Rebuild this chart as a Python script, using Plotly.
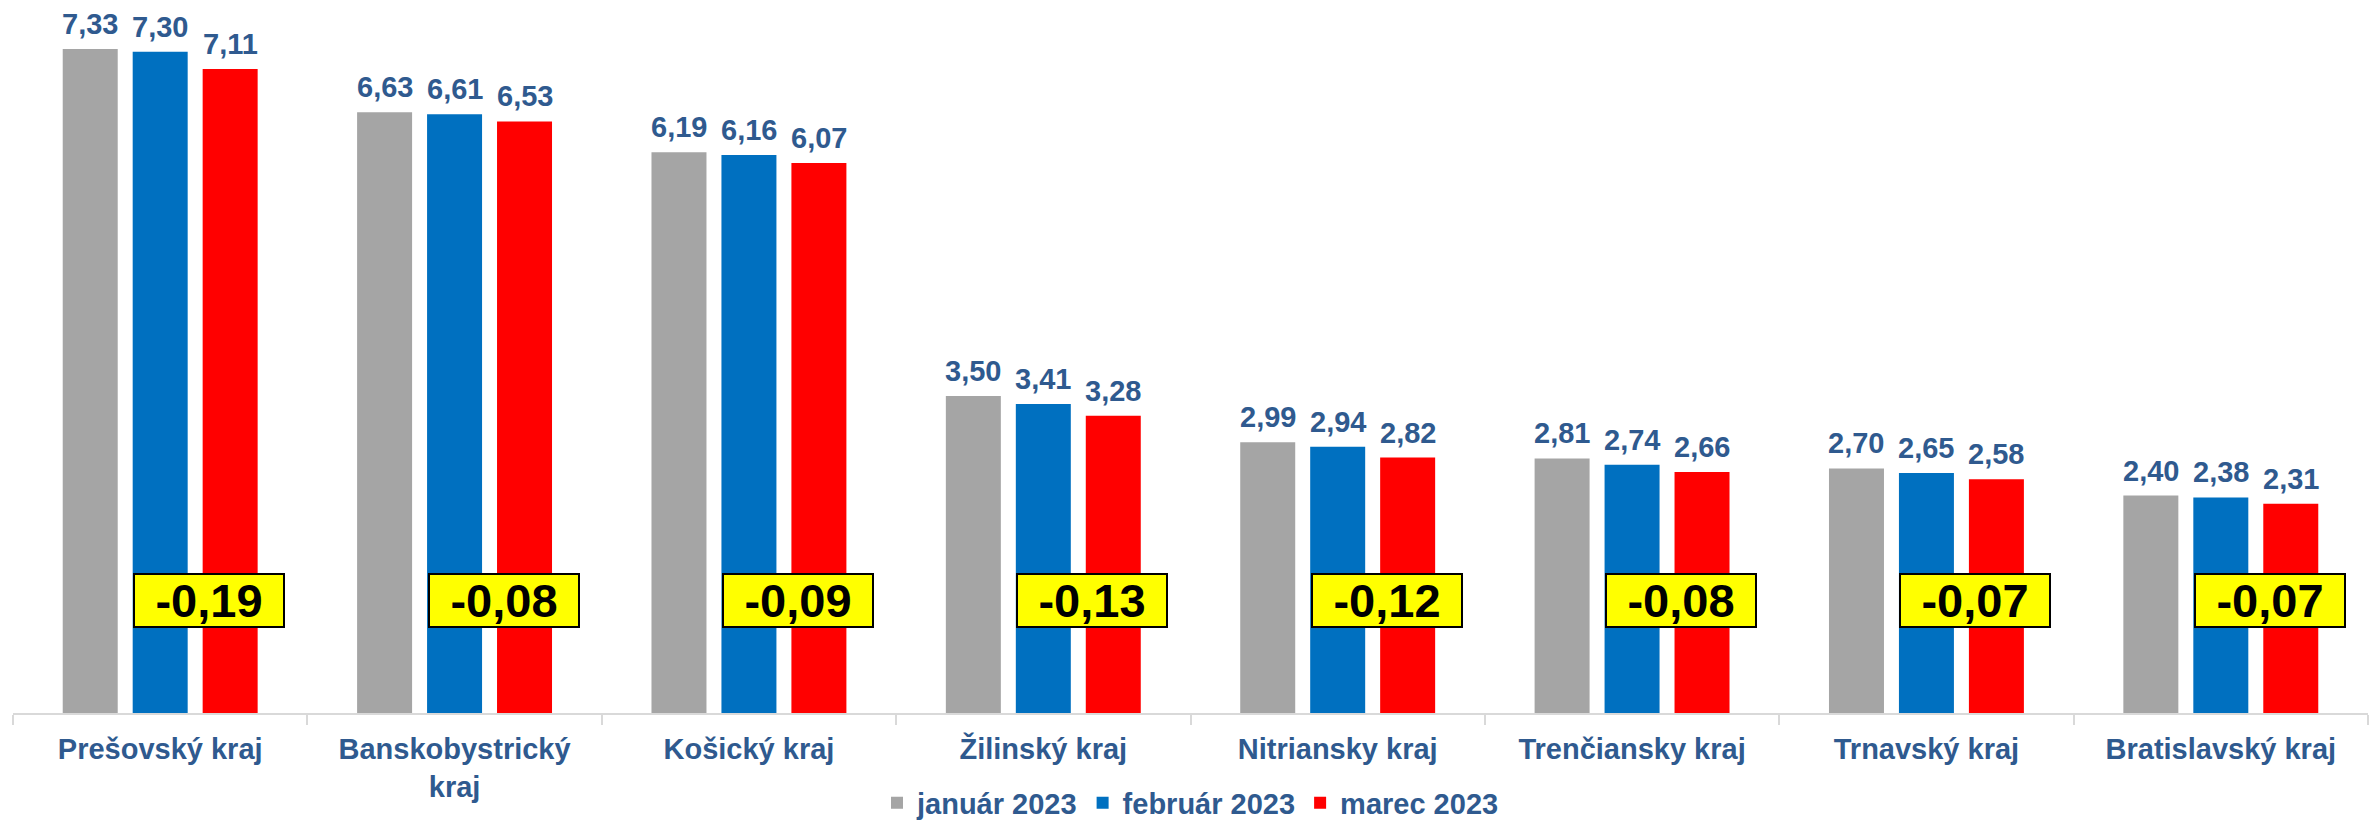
import plotly.graph_objects as go

regions = ["Prešovský kraj", "Banskobystrický<br>kraj", "Košický kraj", "Žilinský kraj",
           "Nitriansky kraj", "Trenčiansky kraj", "Trnavský kraj", "Bratislavský kraj"]
jan = [7.33, 6.63, 6.19, 3.50, 2.99, 2.81, 2.70, 2.40]
feb = [7.30, 6.61, 6.16, 3.41, 2.94, 2.74, 2.65, 2.38]
mar = [7.11, 6.53, 6.07, 3.28, 2.82, 2.66, 2.58, 2.31]
diff = [-0.19, -0.08, -0.09, -0.13, -0.12, -0.08, -0.07, -0.07]
series_names = ["január 2023", "február 2023", "marec 2023"]
colors = ["#A5A5A5", "#0070C0", "#FF0000"]

# the page body has an 8px default margin, so the figure is drawn 8px right/down
W, H = 2379, 823
ML, MR, MT, MB = 5, 19, 2, 118
BARGAP, GROUPGAP = 0.287, 0.214
TXT = "#2F5A8F"
FONT = "Arial, Liberation Sans, sans-serif"

def fmt(v):
    return f"{v:.2f}".replace(".", ",")

fig = go.Figure()
for name, vals, col in zip(series_names, [jan, feb, mar], colors):
    fig.add_trace(go.Bar(x=regions, y=vals, name=name, marker_color=col,
                         marker_line_width=0, hoverinfo="skip"))

catw = (W - ML - MR) / len(regions)
slot = (1 - BARGAP) * catw / 3
ann = []
for s, vals in enumerate([jan, feb, mar]):
    for r, v in zip(regions, vals):
        ann.append(dict(x=r, y=v, text=fmt(v), showarrow=False, yanchor="bottom",
                        xshift=(s - 1) * slot, yshift=7,
                        font=dict(family=FONT, size=29, color=TXT, weight="bold")))
for r, d in zip(regions, diff):
    ann.append(dict(x=r, y=1.24, text=fmt(d), showarrow=False, xshift=slot * 0.7,
                    bgcolor="#FFFF00", bordercolor="#000000", borderwidth=2, borderpad=1,
                    width=146, height=49,
                    font=dict(family=FONT, size=47, color="#000000", weight="bold")))

fig.update_layout(
    width=W, height=H, margin=dict(l=ML, r=MR, t=MT, b=MB, autoexpand=False),
    barmode="group", bargap=BARGAP, bargroupgap=GROUPGAP,
    plot_bgcolor="white", paper_bgcolor="white",
    annotations=ann,
    legend=dict(orientation="h", x=0.5, xanchor="center", yref="container", y=0.034,
                yanchor="middle", font=dict(family=FONT, size=29, color=TXT, weight="bold"),
                itemwidth=30, tracegroupgap=0),
    xaxis=dict(showline=True, linecolor="#D9D9D9", linewidth=2, ticks="outside",
               tickson="boundaries", ticklen=10, tickcolor="#D9D9D9", tickwidth=2,
               ticklabelstandoff=9, automargin=False,
               tickfont=dict(family=FONT, size=29, color=TXT, weight="bold")),
    yaxis=dict(range=[0, 7.76], visible=False, showgrid=False, automargin=False),
)
fig.write_html("out.html")
